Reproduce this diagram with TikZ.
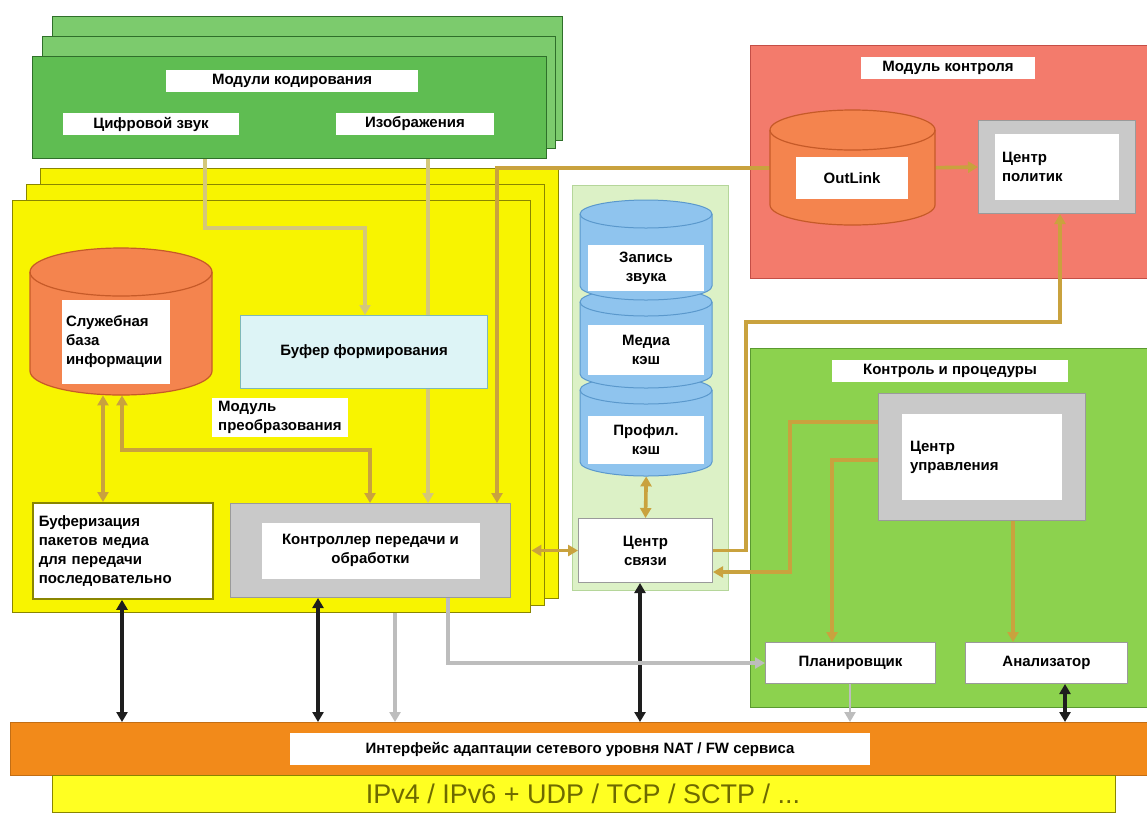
\documentclass[tikz,border=0pt]{standalone}
\usepackage{fontspec}
\setmainfont{Liberation Sans}
\usetikzlibrary{arrows.meta,calc}

\definecolor{gMain}{HTML}{5FBD52}
\definecolor{gLight}{HTML}{7CCB6D}
\definecolor{gDark}{HTML}{2F6F2A}
\definecolor{yMain}{HTML}{F8F400}
\definecolor{yDark}{HTML}{8A8600}
\definecolor{oCyl}{HTML}{F4844E}
\definecolor{oCylD}{HTML}{C65A28}
\definecolor{cBuf}{HTML}{DDF4F6}
\definecolor{cBufD}{HTML}{7FB8B8}
\definecolor{mGreen}{HTML}{DCF1C6}
\definecolor{mGreenD}{HTML}{B5D69A}
\definecolor{bCyl}{HTML}{8FC4EE}
\definecolor{bCylD}{HTML}{5A98CC}
\definecolor{rMain}{HTML}{F37B6C}
\definecolor{rDark}{HTML}{C44E46}
\definecolor{grayBox}{HTML}{C9C9C9}
\definecolor{grayD}{HTML}{9A9A9A}
\definecolor{gR}{HTML}{8CD24E}
\definecolor{gRD}{HTML}{5A9A30}
\definecolor{oBar}{HTML}{F28A1A}
\definecolor{yBar}{HTML}{FFFF22}
\definecolor{tanL}{HTML}{C9A23E}
\definecolor{paleL}{HTML}{D4C77A}
\definecolor{grayL}{HTML}{BDBDBD}
\definecolor{inkD}{HTML}{1E1E1E}
\definecolor{barText}{HTML}{6E6A00}

\pgfdeclarelayer{bg}
\pgfdeclarelayer{wires}
\pgfsetlayers{bg,wires,main}

% box placed by its top-left and bottom-right corners (y grows downward)
\newcommand\placebox[7]{%
  \node[anchor=north west, inner sep=0pt,
        minimum width={(#4-#2)*1pt}, minimum height={(#5-#3)*1pt}, #6]
        (#1) at (#2,#3) {#7};}

% upright cylinder between corners (#1,#2) and (#3,#4), cap half-height #5
\newcommand\cylshape[6]{%
  \pgfmathsetmacro\cylrx{(#3-#1)/2}%
  \path[#6] (#1,#2+#5) -- (#1,#4-#5)
     arc[start angle=180, end angle=360, x radius=\cylrx pt, y radius=#5 pt]
     -- (#3,#2+#5)
     arc[start angle=0, end angle=180, x radius=\cylrx pt, y radius=#5 pt]
     -- cycle;
  \path[#6, fill=none] (#1,#2+#5)
     arc[start angle=180, end angle=360, x radius=\cylrx pt, y radius=#5 pt];}

\begin{document}
\begin{tikzpicture}[x=1pt, y=-1pt,
  font=\fontsize{15}{19}\selectfont\bfseries,
  gpanel/.style={draw=gDark, line width=1.4pt},
  ypanel/.style={fill=yMain, draw=yDark, line width=1.4pt},
  lbl/.style={fill=white, inner xsep=6pt, inner ysep=4pt},
  tip/.tip={Triangle[length=10pt,width=11pt]},
  tanw/.style={draw=tanL, line width=3.6pt, -tip},
  twotan/.style={tanw, tip-tip},
  palew/.style={draw=paleL, line width=3.2pt, -tip},
  grayw/.style={draw=grayL, line width=3.4pt, -tip},
  inkw/.style={draw=inkD, line width=3.4pt, tip-tip},
]
\useasboundingbox (0,0) rectangle (1147,812);

% ---------- coordinates used to align connectors ----------
\coordinate (c103) at (103,0);  \coordinate (c122) at (122,0);
\coordinate (c205) at (205,0);  \coordinate (c318) at (318,0);
\coordinate (c365) at (365,0);  \coordinate (c370) at (370,0);
\coordinate (c395) at (395,0);  \coordinate (c428) at (428,0);
\coordinate (c448) at (448,0);  \coordinate (c497) at (497,0);
\coordinate (c640) at (640,0);  \coordinate (c832) at (832,0);
\coordinate (c850) at (850,0);  \coordinate (c1013) at (1013,0);
\coordinate (c1060) at (1060,0); \coordinate (c1065) at (1065,0);
\coordinate (r228) at (0,228);  \coordinate (r322) at (0,322);
\coordinate (r422) at (0,422);  \coordinate (r450) at (0,450);
\coordinate (r460) at (0,460);  \coordinate (r572) at (0,572);

% ---------- large panels ----------
\begin{pgfonlayer}{bg}
  % coding modules (stacked)
  \placebox{gback2}{52}{16}{562}{140}{gpanel, fill=gLight}{}
  \placebox{gback1}{42}{36}{555}{148}{gpanel, fill=gLight}{}
  \placebox{gfront}{32}{56}{546}{158}{gpanel, fill=gMain}{}
  % processing modules (stacked)
  \placebox{yback2}{40}{168}{558}{598}{ypanel}{}
  \placebox{yback1}{26}{184}{544}{605}{ypanel}{}
  \placebox{yfront}{12}{200}{530}{612}{ypanel}{}
  % storage column
  \placebox{mpanel}{572}{185}{728}{590}{fill=mGreen, draw=mGreenD, line width=1.2pt}{}
  % control module
  \placebox{redmod}{750}{45}{1147}{278}{fill=rMain, draw=rDark, line width=1pt}{}
  % procedures module
  \placebox{gright}{750}{348}{1147}{707}{fill=gR, draw=gRD, line width=1pt}{}
  % network bars
  \placebox{obar}{10}{722}{1147}{775}{fill=oBar, draw=oBar!80!black, line width=0.8pt}{}
  \placebox{ybar}{52}{775}{1115}{812}{fill=yBar, draw=yDark, line width=0.8pt}{}
\end{pgfonlayer}

% ---------- coding module labels ----------
\node[lbl, minimum width=252pt] (gtitle) at (292,81) {Модули кодирования};
\node[lbl, minimum width=176pt] (gsub1) at (151,124) {Цифровой звук};
\node[lbl, minimum width=158pt] (gsub2) at (415,124) {Изображения};

% ---------- processing module contents ----------
\placebox{ocyl}{30}{248}{212}{395}{}{}
\cylshape{30}{248}{212}{395}{24}{fill=oCyl, draw=oCylD, line width=1.2pt}
\node[fill=white, align=left, text width=100pt, minimum height=84pt, inner sep=4pt]
  (ocyltxt) at (116,342) {Служебная\\база\\информации};

\placebox{buffer}{240}{315}{487}{388}{fill=cBuf, draw=cBufD, line width=1.2pt}{Буфер формирования}
\node[lbl, align=left, anchor=north west, inner ysep=3pt] (convlbl) at (212,398)
  {Модуль\\преобразования};

\placebox{blbox}{32}{502}{212}{598}{fill=white, draw=yDark, line width=1.8pt,
  align=left, text width=168pt, inner xsep=5pt}
  {Буферизация\\пакетов медиа\\для передачи\\последовательно};

\placebox{midbox}{230}{503}{510}{597}{fill=grayBox, draw=grayD, line width=1pt}{}
\node[fill=white, align=center, minimum width=218pt, minimum height=56pt] (midtxt)
  at (midbox) {Контроллер передачи и\\обработки};

% ---------- storage column ----------
\placebox{db1}{580}{200}{712}{300}{}{}
\placebox{db2}{580}{288}{712}{388}{}{}
\placebox{db3}{580}{376}{712}{476}{}{}
\cylshape{580}{376}{712}{476}{14}{fill=bCyl, draw=bCylD, line width=1pt}
\cylshape{580}{288}{712}{388}{14}{fill=bCyl, draw=bCylD, line width=1pt}
\cylshape{580}{200}{712}{300}{14}{fill=bCyl, draw=bCylD, line width=1pt}
\node[fill=white, align=center, minimum width=116pt, minimum height=46pt] (db1t) at (646,268) {Запись\\звука};
\node[fill=white, align=center, minimum width=116pt, minimum height=50pt] (db2t) at (646,350) {Медиа\\кэш};
\node[fill=white, align=center, minimum width=116pt, minimum height=48pt] (db3t) at (646,440) {Профил.\\кэш};
\placebox{hub}{578}{518}{712}{582}{fill=white, draw=grayD, line width=1pt, align=center}{Центр\\связи}

% ---------- control module ----------
\node[lbl, minimum width=174pt] (rtitle) at (948,68) {Модуль контроля};
\placebox{rcyl}{770}{110}{935}{225}{}{}
\cylshape{770}{110}{935}{225}{20}{fill=oCyl, draw=oCylD, line width=1.2pt}
\node[fill=white, minimum width=112pt, minimum height=42pt] (rcylt) at (852,178) {OutLink};
\placebox{policy}{978}{120}{1135}{213}{fill=grayBox, draw=grayD, line width=1pt}{}
\node[fill=white, align=left, text width=110pt, minimum height=66pt, inner xsep=7pt]
  (policyt) at (policy) {Центр\\политик};

% ---------- procedures module ----------
\node[lbl, minimum width=236pt] (ptitle) at (950,371) {Контроль и процедуры};
\placebox{ctrl}{878}{393}{1085}{520}{fill=grayBox, draw=grayD, line width=1pt}{}
\node[fill=white, align=left, text width=144pt, minimum height=86pt, inner xsep=8pt]
  (ctrlt) at (ctrl) {Центр\\управления};
\placebox{planner}{765}{642}{935}{683}{fill=white, draw=grayD, line width=1pt}{Планировщик}
\placebox{analyzer}{965}{642}{1127}{683}{fill=white, draw=grayD, line width=1pt}{Анализатор}

% ---------- network bars ----------
\node[lbl, minimum width=580pt, minimum height=32pt] (obart) at (580,749)
  {Интерфейс адаптации сетевого уровня NAT / FW сервиса};
\node[font=\fontsize{27}{30}\selectfont, text=barText] (ybart) at (583,794)
  {IPv4 / IPv6 + UDP / TCP / SCTP / ...};

% ---------- connectors ----------
\begin{pgfonlayer}{wires}
  % from the coding modules into processing
  \draw[palew] (gfront.south -| c205) |- (r228 -| c365) -- (buffer.north -| c365);
  \draw[palew] (gfront.south -| c428) -- (midbox.north -| c428);
  % service database links
  \draw[twotan] (ocyl.south -| c103) -- (blbox.north -| c103);
  \draw[twotan] (ocyl.south -| c122) |- (r450 -| c370) -- (midbox.north -| c370);
  % control module feeds the transfer controller
  \draw[tanw] (rcyl.west) -| (midbox.north -| c497);
  \draw[tanw] (rcyl.east) -- (policy.west);
  % communication hub links
  \draw[twotan] (hub.west) -- (yfront.east |- hub.west);
  \draw[twotan] (db3.south) -- (hub.north);
  \draw[tanw] (hub.east) -- ++(33,0) |- (r322 -| c1060) -- (policy.south -| c1060);
  \draw[tanw, tip-] (hub.east |- r572) -| (790,422) -- (ctrl.west |- r422);
  \draw[tanw] (ctrl.west |- r460) -| (planner.north -| c832);
  \draw[tanw] (ctrl.south -| c1013) -- (analyzer.north -| c1013);
  % links to the network layer
  \draw[inkw] (blbox.south -| c122) -- (obar.north -| c122);
  \draw[inkw] (midbox.south -| c318) -- (obar.north -| c318);
  \draw[inkw] (hub.south -| c640) -- (obar.north -| c640);
  \draw[inkw] (analyzer.south -| c1065) -- (obar.north -| c1065);
  \draw[grayw] (yfront.south -| c395) -- (obar.north -| c395);
  \draw[grayw] (midbox.south -| c448) |- (planner.west);
  \draw[grayw, line width=2.2pt] (planner.south -| c850) -- (obar.north -| c850);
\end{pgfonlayer}
\end{tikzpicture}
\end{document}
